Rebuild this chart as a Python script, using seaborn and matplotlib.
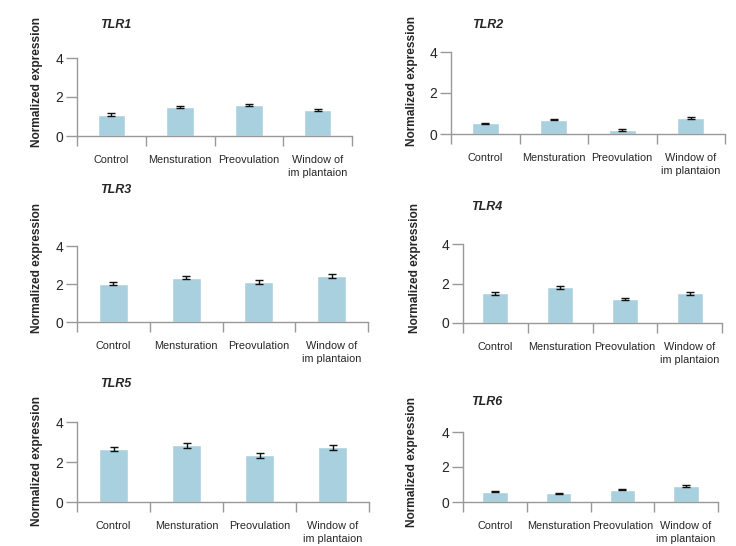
import numpy as np
import pandas as pd
import matplotlib.pyplot as plt
import seaborn as sns

# phases on the x axis
phases = ["Control", "Mensturation", "Preovulation", "Window of\nim plantaion"]

# mean normalized expression per gene
tlr1 = [1.09, 1.49, 1.59, 1.31]
tlr2 = [0.52, 0.70, 0.20, 0.79]
tlr3 = [2.02, 2.33, 2.11, 2.44]
tlr4 = [1.51, 1.81, 1.20, 1.51]
tlr5 = [2.65, 2.83, 2.33, 2.73]
tlr6 = [0.60, 0.50, 0.70, 0.90]

# error bars
tlr1_err = [0.07, 0.07, 0.07, 0.05]
tlr2_err = [0.03, 0.03, 0.03, 0.06]
tlr3_err = [0.09, 0.09, 0.09, 0.11]
tlr4_err = [0.07, 0.08, 0.05, 0.07]
tlr5_err = [0.12, 0.14, 0.12, 0.12]
tlr6_err = [0.03, 0.03, 0.03, 0.06]

genes = ["TLR1", "TLR2", "TLR3", "TLR4", "TLR5", "TLR6"]
means = [tlr1, tlr2, tlr3, tlr4, tlr5, tlr6]
errs = [tlr1_err, tlr2_err, tlr3_err, tlr4_err, tlr5_err, tlr6_err]

# axes boxes in pixels: left, right, top(y=4), bottom(y=0)
W, H = 736, 546
boxes = [
    (77, 352, 58, 136),
    (451, 725, 52, 134),
    (77, 368, 246, 322),
    (463, 722, 244, 323),
    (77, 369, 422, 502),
    (463, 718, 432, 502),
]
# title (left x, center y) and ylabel center (x, y)
titles_at = [(100, 25), (472, 25), (100, 190), (471, 207), (100, 384), (471, 402)]
ylabels_at = [(37, 82), (412, 81), (37, 268), (415, 268), (37, 461), (412, 462)]

sns.set_theme(style="white")
plt.rcParams['font.family'] = ['Liberation Sans', 'DejaVu Sans']

bar_color = "#A9D0DE"
axis_color = "#999999"

fig = plt.figure(figsize=(W / 100, H / 100), dpi=100)

for i, gene in enumerate(genes):
    l, r, t, b = boxes[i]
    ax = fig.add_axes([l / W, 1 - b / H, (r - l) / W, (b - t) / H])
    df = pd.DataFrame({"Phase": phases, "Expression": means[i]})
    sns.barplot(data=df, x="Phase", y="Expression", color=bar_color,
                width=0.4, errorbar=None, saturation=1, ax=ax)
    ax.errorbar(np.arange(len(phases)), means[i], yerr=errs[i], fmt="none",
                ecolor="#111111", elinewidth=1.0, capsize=2.8, capthick=1.0)

    ax.set_xlim(-0.5, len(phases) - 0.5)
    ax.set_ylim(0, 4)
    ax.set_yticks([0, 2, 4])
    ax.set_yticklabels(["0", "2", "4"], fontsize=10)

    # boundary ticks on x, labels at category centres
    ax.set_xticks(np.arange(-0.5, len(phases), 1.0))
    ax.set_xticklabels([])
    ax.set_xticks(np.arange(len(phases)), minor=True)
    ax.set_xticklabels(phases, minor=True, fontsize=7.8, linespacing=1.35)
    ax.tick_params(axis="x", which="major", direction="out", length=7,
                   color=axis_color, width=1, bottom=True)
    ax.tick_params(axis="x", which="minor", length=0, pad=14)
    ax.tick_params(axis="y", direction="out", length=8, color=axis_color,
                   width=1, left=True, pad=2)

    sns.despine(ax=ax)
    for s in ["left", "bottom"]:
        ax.spines[s].set_color(axis_color)
        ax.spines[s].set_linewidth(1)
    ax.set_xlabel("")
    ax.set_ylabel("")
    ax.grid(False)

    tx, ty = titles_at[i]
    fig.text(tx / W, 1 - ty / H, gene, fontsize=9, fontweight="bold",
             fontstyle="italic", ha="left", va="center")
    lx, ly = ylabels_at[i]
    fig.text(lx / W, 1 - ly / H, "Normalized expression", fontsize=8.6,
             fontweight="bold", rotation=90, ha="center", va="center")

fig.savefig("out.png", dpi=100)
